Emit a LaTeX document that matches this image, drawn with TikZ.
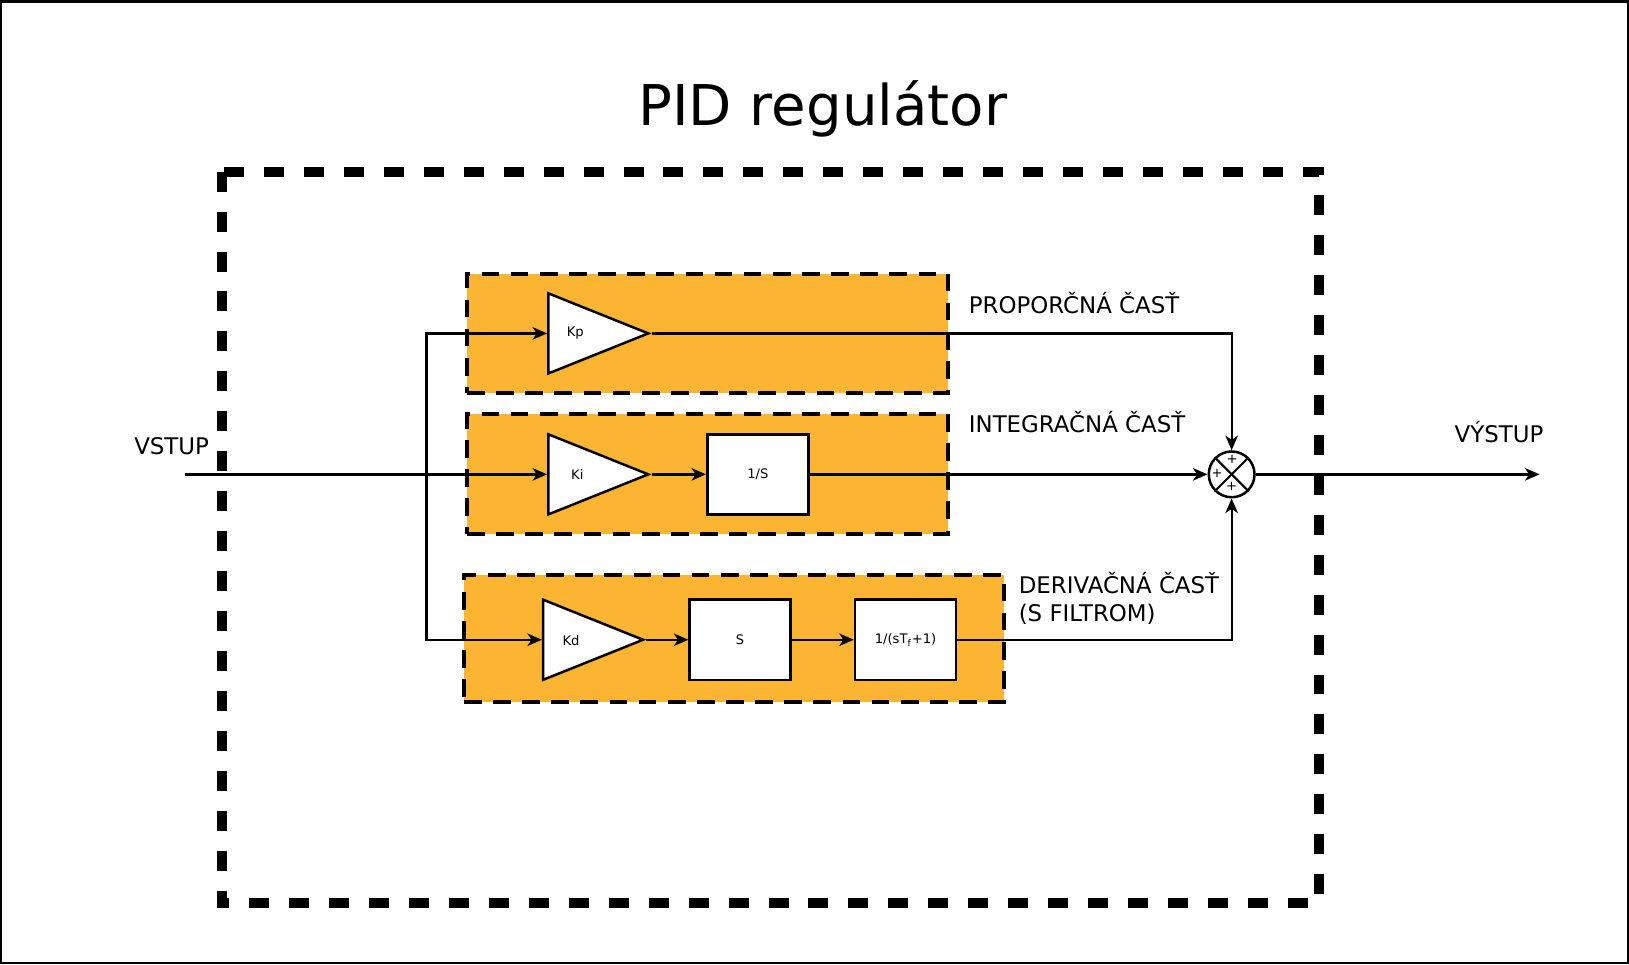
\documentclass[tikz,border=0pt]{standalone}
\usepackage{fontspec}
\setmainfont{DejaVu Sans}
\usetikzlibrary{shapes.geometric,arrows.meta}
\definecolor{partorange}{RGB}{251,181,50}

\begin{document}
\begin{tikzpicture}
  [x=0.5pt,y=-0.5pt,
   part/.style={draw,fill=partorange,line width=1.9pt,dash pattern=on 8.5pt off 5.5pt,
     minimum width=231pt,minimum height=57.5pt,inner sep=0pt},
   gain/.style={draw,fill=white,line width=1.2pt,isosceles triangle,isosceles triangle stretches,
     shape border rotate=0,minimum width=38.5pt,minimum height=48pt,inner sep=0pt,anchor=west},
   block/.style={draw,fill=white,line width=1.2pt,minimum width=48.5pt,minimum height=38.5pt,inner sep=0pt},
   sumnode/.style={draw,fill=white,circle,line width=1.2pt,minimum size=22pt,inner sep=0pt},
   lbl/.style={font=\fontsize{11}{13}\selectfont,inner sep=0pt},
   small/.style={font=\fontsize{6.3}{7.5}\selectfont,inner sep=0pt},
   sig/.style={line width=1.1pt,-{Stealth[length=7pt,width=6pt,inset=2pt]}}]
  \useasboundingbox (0,0) rectangle (1566,927);
  \draw[line width=1.2pt] (1.2,1.2) rectangle (1564.8,925.8);

  \node[font=\fontsize{27}{32}\selectfont,anchor=base,inner sep=0pt] (title) at (791,121) {PID regulátor};

  % parts of the regulator
  \node[part] (pbox) at (680,320.5) {};
  \node[part] (ibox) at (680,455.5) {};
  \node[part,minimum width=259.5pt,minimum height=61pt] (dbox) at (705.5,614) {};
  \draw[line width=4.8pt,dash pattern=on 9.6pt off 9.6pt] (213,165) rectangle (1268,868);

  \node[gain] (kp) at (526,320.5) {};
  \node[gain] (ki) at (526,456) {};
  \node[gain] (kd) at (521,615) {};
  \node[small] at (553,320.5) {Kp};
  \node[small] at (555,456) {Ki};
  \node[small] at (549,616) {Kd};
  \node[block] (int) at (728.5,456) {};
  \node[small] at (int) {1/S};
  \node[block] (der) at (711.5,615) {};
  \node[small] at (der) {S};
  \node[block] (filt) at (870.5,615) {};
  \node[small] at (filt) {1/(sT$_{\mathrm{f}}$+1)};

  \node[sumnode] (sum) at (1184,456) {};
  \draw[line width=1pt] (sum.north west) -- (sum.south east) (sum.north east) -- (sum.south west);
  \node[small] at (1184.5,442) {+};
  \node[small] at (1170,455) {+};
  \node[small] at (1184,468) {+};

  \node[lbl,anchor=base] (vstup) at (165,437) {VSTUP};
  \node[lbl,anchor=base] (vystup) at (1441,425) {VÝSTUP};
  \node[lbl,anchor=base west] (plbl) at (931,301) {PROPORČNÁ ČASŤ};
  \node[lbl,anchor=base west] (ilbl) at (931,416) {INTEGRAČNÁ ČASŤ};
  \node[lbl,anchor=base west] (dlbl) at (979,571) {DERIVAČNÁ ČASŤ};
  \node[lbl,anchor=base west] (flbl) at (979,597) {(S FILTROM)};

  \coordinate (in) at (178,456);
  \coordinate (split) at (410,456);
  \coordinate (out) at (1480,456);

  \draw[sig] (in) -- (ki.west);
  \draw[sig] (split) |- (kp.west);
  \draw[sig] (split) |- (kd.west);
  \draw[sig] (kp.apex) -| (sum.north);
  \draw[sig] (filt.east) -| (sum.south);
  \foreach \from/\to in {ki.apex/int.west,kd.apex/der.west,der.east/filt.west,int.east/sum.west,sum.east/out}
    \draw[sig] (\from) -- (\to);
\end{tikzpicture}
\end{document}
